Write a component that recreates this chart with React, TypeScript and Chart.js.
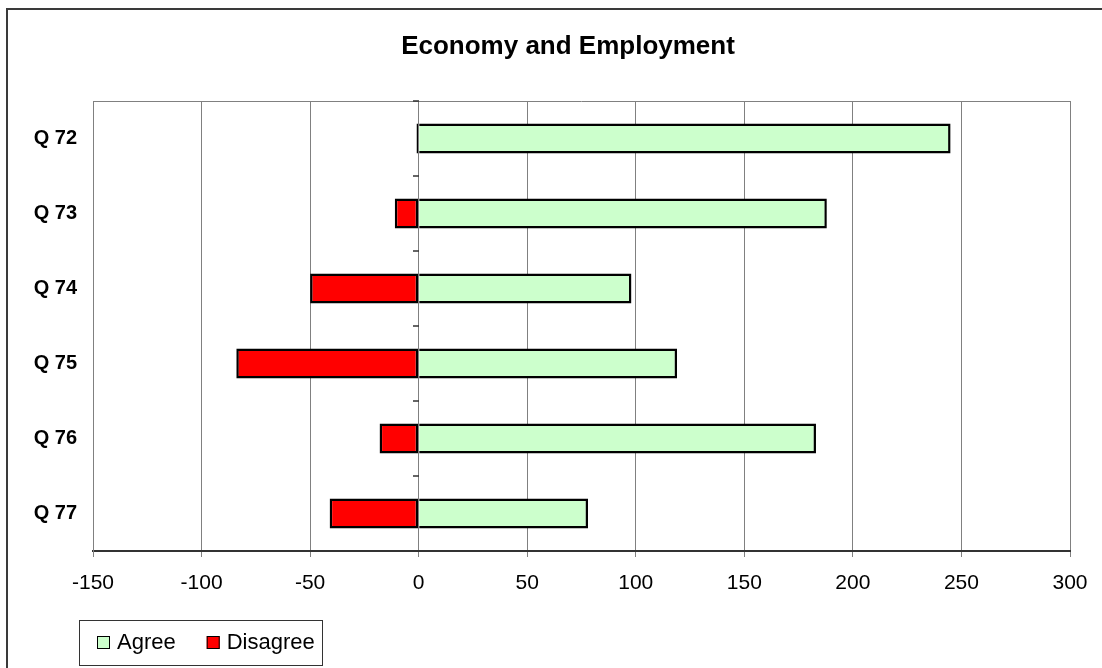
import React, { useEffect, useRef } from 'react';
import { Chart, registerables } from 'chart.js';

Chart.register(...registerables);

const categories = ['Q 72', 'Q 73', 'Q 74', 'Q 75', 'Q 76', 'Q 77'];
const agreeValues = [245, 188, 98, 119, 183, 78];
const disagreeValues = [-1, -11, -50, -84, -18, -41];
const xMin = -150;
const xMax = 300;
const xStep = 50;
const chartTitle = 'Economy and Employment';
const seriesNames = ['Agree', 'Disagree'];
const seriesColors = ['#CCFFCC', '#FF0000'];

const FONT = '"Liberation Sans", Arial, Helvetica, sans-serif';

export default function App() {
  const ref = useRef<HTMLCanvasElement>(null);

  useEffect(() => {
    const canvas = ref.current;
    if (!canvas) return;

    const decor = {
      id: 'decor',
      beforeDraw(chart: any) {
        const ctx = chart.ctx;
        ctx.save();
        ctx.fillStyle = '#ffffff';
        ctx.fillRect(0, 0, chart.width, chart.height);
        ctx.fillStyle = '#3a3a3a';
        ctx.fillRect(6, 8, 2, chart.height - 8);
        ctx.fillRect(6, 8, chart.width - 6, 2);
        ctx.fillStyle = '#000000';
        ctx.font = `bold 26px ${FONT}`;
        ctx.textAlign = 'center';
        ctx.textBaseline = 'alphabetic';
        ctx.fillText(chartTitle, 568, 54);
        ctx.restore();
      },
      beforeDatasetsDraw(chart: any) {
        const { ctx, chartArea } = chart;
        ctx.save();
        ctx.strokeStyle = '#808080';
        ctx.lineWidth = 1;
        ctx.beginPath();
        ctx.moveTo(chartArea.left, Math.round(chartArea.top) + 0.5);
        ctx.lineTo(chartArea.right, Math.round(chartArea.top) + 0.5);
        ctx.stroke();
        ctx.restore();
      },
      afterDatasetsDraw(chart: any) {
        const { ctx } = chart;
        const xs = chart.scales.x;
        const ys = chart.scales.y;
        const x0 = Math.round(xs.getPixelForValue(0));
        const half = (ys.getPixelForValue(1) - ys.getPixelForValue(0)) / 2;
        ctx.save();
        ctx.strokeStyle = '#333333';
        ctx.lineWidth = 1.5;
        ctx.beginPath();
        for (let i = 0; i <= categories.length; i++) {
          const yy = Math.round(ys.getPixelForValue(0) - half + i * 2 * half);
          ctx.moveTo(x0 - 6, yy);
          ctx.lineTo(x0, yy);
        }
        ctx.stroke();
        ctx.restore();
      },
      afterDraw(chart: any) {
        const ctx = chart.ctx;
        ctx.save();
        ctx.strokeStyle = '#333333';
        ctx.lineWidth = 1;
        ctx.strokeRect(79.5, 620.5, 243, 45);
        ctx.font = `22px ${FONT}`;
        ctx.textBaseline = 'middle';
        ctx.textAlign = 'left';
        let x = 97;
        chart.data.datasets.forEach((ds: any) => {
          ctx.fillStyle = ds.backgroundColor;
          ctx.fillRect(x, 636, 13, 13);
          ctx.strokeStyle = '#000000';
          ctx.strokeRect(x + 0.5, 636.5, 12, 12);
          ctx.fillStyle = '#000000';
          ctx.fillText(ds.label, x + 20, 643);
          x = x + 20 + ctx.measureText(ds.label).width + 31;
        });
        ctx.restore();
      },
    };

    const barStyle = {
      borderColor: '#000000',
      borderWidth: 2.5,
      inflateAmount: 0,
      categoryPercentage: 1,
      barPercentage: 0.4,
      stack: 's',
    };

    const chart = new Chart(canvas, {
      type: 'bar',
      data: {
        labels: categories,
        datasets: [
          {
            label: seriesNames[0],
            data: agreeValues,
            backgroundColor: seriesColors[0],
            ...barStyle,
            borderSkipped: 'start',
          },
          {
            label: seriesNames[1],
            data: disagreeValues,
            backgroundColor: seriesColors[1],
            ...barStyle,
            borderSkipped: false,
          },
        ],
      },
      options: {
        indexAxis: 'y',
        responsive: false,
        animation: false,
        devicePixelRatio: 1,
        layout: { padding: { left: 0, right: 32, top: 101, bottom: 77 } },
        plugins: {
          legend: { display: false },
          title: { display: false },
          tooltip: { enabled: false },
        },
        scales: {
          x: {
            type: 'linear',
            stacked: true,
            min: xMin,
            max: xMax,
            afterFit: (s: any) => {
              s.height = 40;
            },
            ticks: {
              stepSize: xStep,
              color: '#000000',
              font: { family: FONT, size: 21 },
              padding: 14,
              maxRotation: 0,
            },
            grid: {
              color: '#808080',
              lineWidth: 1,
              tickLength: 6,
              tickColor: '#808080',
            },
            border: { display: true, color: '#333333', width: 2 },
          },
          y: {
            type: 'category',
            stacked: true,
            afterFit: (s: any) => {
              s.width = 93;
            },
            ticks: {
              color: '#000000',
              font: { family: FONT, size: 20, weight: 'bold' },
              padding: 16,
            },
            grid: { display: false, drawTicks: false },
            border: { display: true, color: '#808080', width: 1 },
          },
        },
      },
      plugins: [decor],
    } as any);

    return () => {
      chart.destroy();
    };
  }, []);

  return (
    <div style={{ position: 'fixed', left: 0, top: 0, width: 1102, height: 668, background: '#fff' }}>
      <canvas ref={ref} width={1102} height={668} style={{ width: 1102, height: 668, display: 'block' }} />
    </div>
  );
}
